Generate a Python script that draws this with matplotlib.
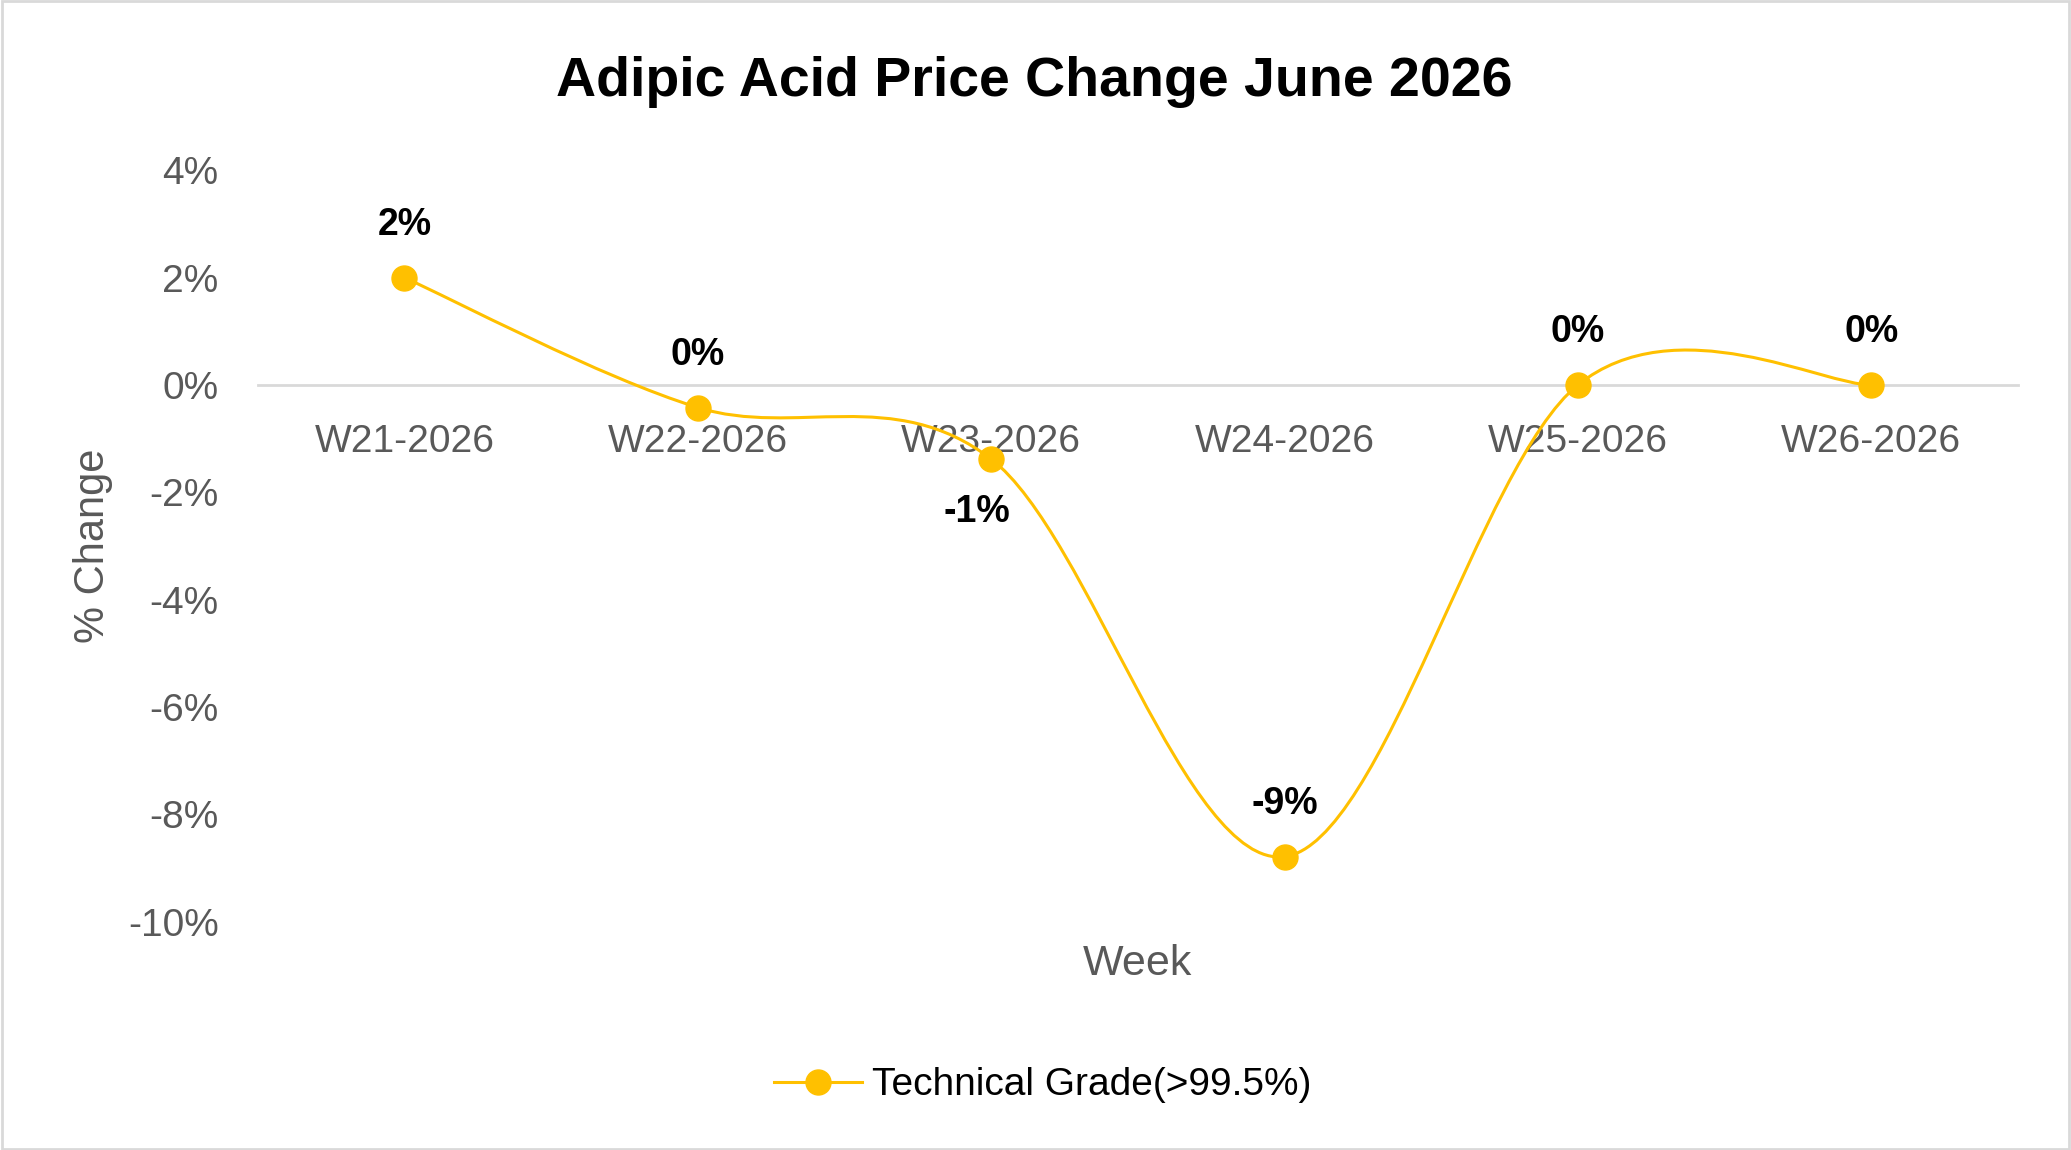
import matplotlib
matplotlib.use("Agg")
import matplotlib.pyplot as plt
from matplotlib.path import Path
from matplotlib.patches import PathPatch, Rectangle
from matplotlib.lines import Line2D

# ── Data ────────────────────────────────────────────────────────
weeks = ["W21-2026", "W22-2026", "W23-2026", "W24-2026", "W25-2026", "W26-2026"]
pct_change = [2.0, -0.42, -1.38, -8.79, 0.0, 0.0]
series_name = "Technical Grade(>99.5%)"
y_ticks = [4, 2, 0, -2, -4, -6, -8, -10]

GOLD = "#FFC000"
GREY_TXT = "#595959"

plt.rcParams["font.family"] = ["Liberation Sans", "DejaVu Sans"]


def smooth_path(xs, ys):
    """Excel-style smoothed line: cubic Bezier segments with Catmull-Rom controls."""
    pts = list(zip(xs, ys))
    verts = [pts[0]]
    codes = [Path.MOVETO]
    n = len(pts)
    for i in range(n - 1):
        p0 = pts[i - 1] if i > 0 else pts[i]
        p1 = pts[i]
        p2 = pts[i + 1]
        p3 = pts[i + 2] if i + 2 < n else pts[i + 1]
        c1 = (p1[0] + (p2[0] - p0[0]) / 6, p1[1] + (p2[1] - p0[1]) / 6)
        c2 = (p2[0] - (p3[0] - p1[0]) / 6, p2[1] - (p3[1] - p1[1]) / 6)
        verts += [c1, c2, p2]
        codes += [Path.CURVE4] * 3
    return Path(verts, codes)


fig = plt.figure(figsize=(20.71, 11.5), dpi=100)
ax = fig.add_axes([0.1244, 0.1986, 0.85, 0.6533])

x = list(range(len(weeks)))

# Smoothed line + markers
ax.add_patch(PathPatch(smooth_path(x, pct_change), facecolor="none",
                       edgecolor=GOLD, linewidth=2.2, zorder=3))
ax.plot(x, pct_change, linestyle="none", marker="o", markersize=18,
        color=GOLD, zorder=4)

# Data labels (rounded, like Excel's 0% number format)
for xi, yi in zip(x, pct_change):
    txt = f"{round(yi):.0f}%"
    if txt == "-0%":
        txt = "0%"
    if xi == 2:
        ax.annotate(txt, (xi, yi), textcoords="offset points", xytext=(-10, -38),
                    ha="center", va="center", fontsize=27, fontweight="bold")
    else:
        ax.annotate(txt, (xi, yi), textcoords="offset points", xytext=(0, 38),
                    ha="center", va="center", fontsize=27, fontweight="bold")

# Axes styling
ax.set_xlim(-0.5, len(weeks) - 0.5)
ax.set_ylim(-10, 4)
ax.set_yticks(y_ticks)
ax.set_yticklabels([f"{t}%" for t in y_ticks])
ax.set_xticks(x)
ax.set_xticklabels(weeks)

for side in ["top", "right", "left"]:
    ax.spines[side].set_visible(False)
ax.spines["bottom"].set_position(("data", 0))
ax.spines["bottom"].set_color("#D9D9D9")
ax.spines["bottom"].set_linewidth(2)

ax.tick_params(axis="x", length=0, pad=28, labelsize=28, labelcolor=GREY_TXT)
ax.tick_params(axis="y", length=0, pad=28, labelsize=28, labelcolor=GREY_TXT)

ax.set_xlabel("Week", fontsize=31, color=GREY_TXT)
ax.xaxis.set_label_coords(0.5, -0.056)
ax.xaxis.label.set_va("center")
ax.set_ylabel("% Change", fontsize=30, color=GREY_TXT)
ax.yaxis.set_label_coords(-0.0936, 0.5)
ax.yaxis.label.set_va("center")

fig.text(0.4994, 0.929, "Adipic Acid Price Change June 2026",
         ha="center", va="center", fontsize=40, fontweight="bold")

handle = Line2D([], [], color=GOLD, linewidth=2.2, marker="o", markersize=18)
fig.legend([handle], [series_name], loc="center", bbox_to_anchor=(0.5035, 0.0564),
           frameon=False, fontsize=28, handlelength=2.25, handletextpad=0.25)

# Chart border
fig.patches.append(Rectangle((0.001, 0.001), 0.998, 0.998, transform=fig.transFigure,
                             fill=False, edgecolor="#D9D9D9", linewidth=2))

fig.savefig("out.png", dpi=100)
plt.close(fig)
